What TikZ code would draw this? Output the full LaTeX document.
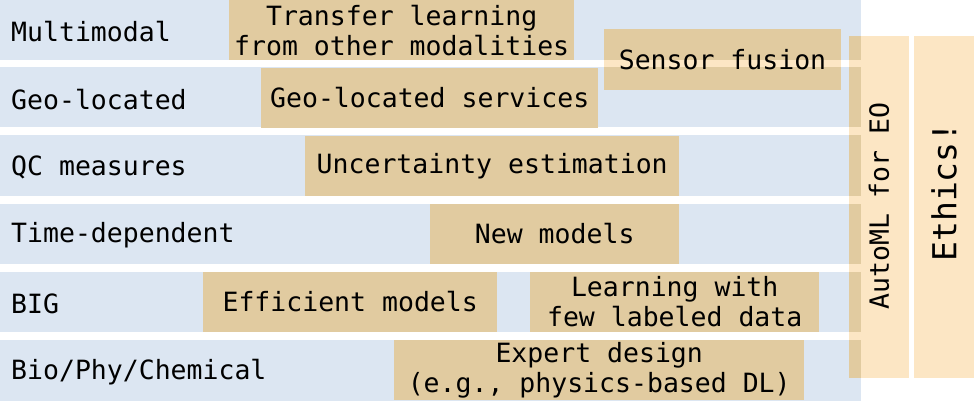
\documentclass[tikz,border=0pt]{standalone}
\usepackage{fontspec}
\setmainfont{DejaVu Sans Mono}
\definecolor{rowblue}{HTML}{DCE6F2}
\definecolor{tan}{HTML}{E1CBA0}
\definecolor{paleorange}{HTML}{FCE6C4}
\begin{document}
\begin{tikzpicture}[x=1pt,y=-1pt,
  every node/.style={font=\fontsize{26.5}{30}\selectfont, text=black},
  rowlabel/.style={anchor=west, inner sep=0pt},
  tanbox/.style={anchor=north west, fill=tan, inner sep=0pt, align=center},
  colbox/.style={anchor=north west, fill=paleorange, inner sep=0pt, minimum width=60pt, minimum height=342pt},
  collabel/.style={rotate=90, inner sep=0pt}]
\useasboundingbox (0,0) rectangle (974,401);

% property bars
\fill[rowblue] (0,0)     rectangle (861,60);
\fill[rowblue] (0,67.5)  rectangle (861,127.5);
\fill[rowblue] (0,135.5) rectangle (861,195.5);
\fill[rowblue] (0,203.5) rectangle (861,263.5);
\fill[rowblue] (0,271.5) rectangle (861,331.5);
\fill[rowblue] (0,340)   rectangle (861,401);

\node[rowlabel] (mm)   at (11,32)    {Multimodal};
\node[rowlabel] (geo)  at (11,99.5)  {Geo-located};
\node[rowlabel] (qc)   at (11,167.5) {QC measures};
\node[rowlabel] (time) at (11,235.5) {Time-dependent};
\node[rowlabel] (big)  at (11,303.5) {BIG};
\node[rowlabel] (bio)  at (11,372)   {Bio/Phy/Chemical};

% cross-cutting columns
\node[colbox] (automlbg) at (849,36) {};
\node[colbox] (ethicsbg) at (914,36) {};
\fill[tan] (849,36)    rectangle (861,60);
\fill[tan] (849,67.5)  rectangle (861,127.5);
\fill[tan] (849,135.5) rectangle (861,195.5);
\fill[tan] (849,203.5) rectangle (861,263.5);
\fill[tan] (849,271.5) rectangle (861,331.5);
\fill[tan] (849,340)   rectangle (861,378);
\node[collabel] (automl) at (879,206) {AutoML for EO};
\node[collabel, font=\fontsize{33}{38}\selectfont] (ethics) at (944,192) {Ethics!};

% research directions
\node[tanbox, minimum width=345pt, minimum height=60pt] (transfer) at (229,0)
  {Transfer learning\\from other modalities};
\node[tanbox, minimum width=337pt, minimum height=60pt] (geoserv) at (261,67.5)
  {Geo-located services};
\node[tanbox, minimum width=374pt, minimum height=60pt] (uncert) at (305,135.5)
  {Uncertainty estimation};
\node[tanbox, minimum width=249pt, minimum height=60pt] (newmod) at (430,203.5)
  {New models};
\node[tanbox, minimum width=294pt, minimum height=60pt] (effic) at (203,271.5)
  {Efficient models};
\node[tanbox, minimum width=289pt, minimum height=60pt] (fewlab) at (530,271.5)
  {Learning with\\few labeled data};
\node[tanbox, minimum width=410pt, minimum height=60pt] (expert) at (394,340)
  {Expert design\\(e.g., physics-based DL)};

% sensor fusion straddles two bars
\fill[tan] (604,29) rectangle (841,90);
\fill[paleorange] (604,60) rectangle (841,67.5);
\node[inner sep=0pt] (fusion) at (722.5,59.5) {Sensor fusion};
\end{tikzpicture}
\end{document}
